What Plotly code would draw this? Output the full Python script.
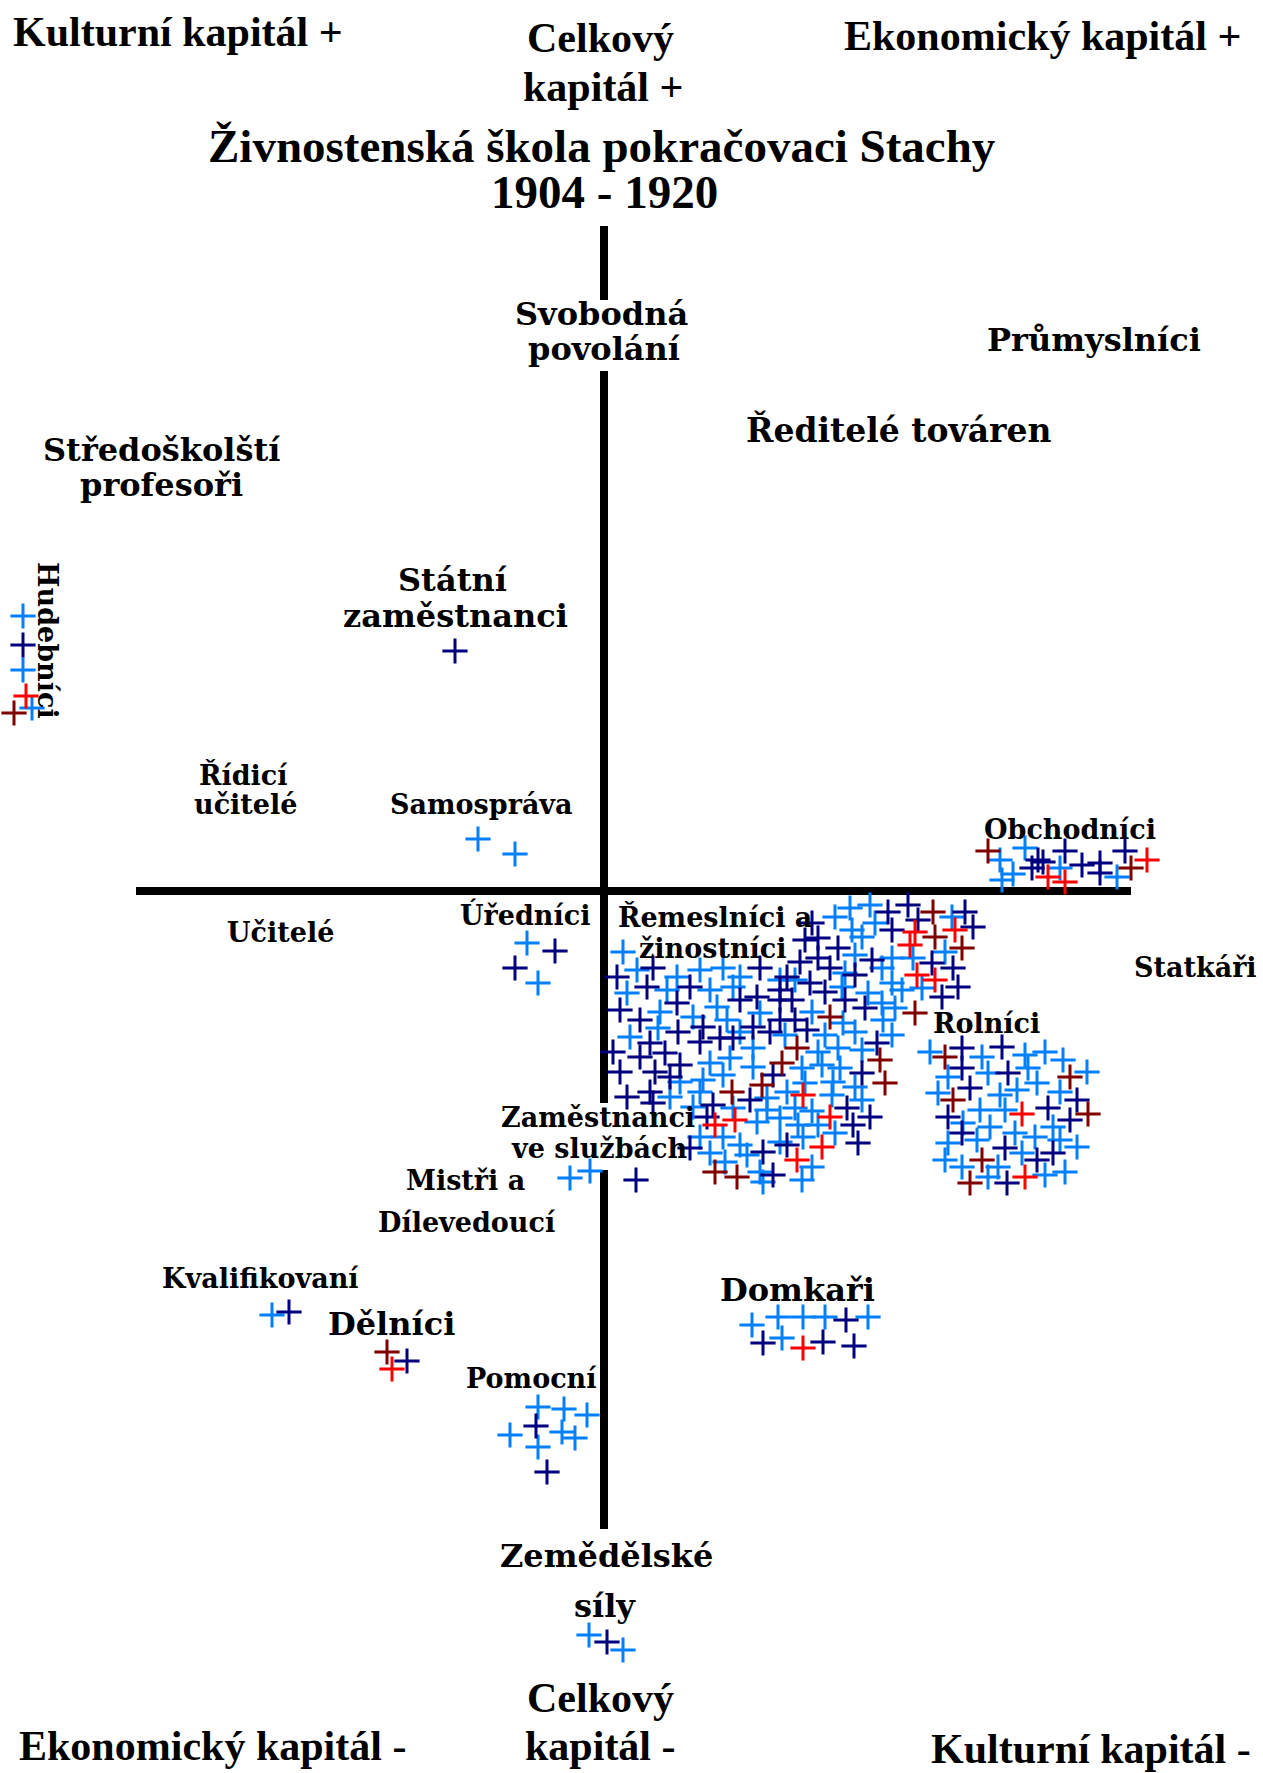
import plotly.graph_objects as go

# ---------------- data (map coordinates, y grows downward) ----------------
light_blue_x = [23, 23, 32, 478, 515, 527, 538, 1025, 1000, 1002, 1013, 1060, 1117, 570, 590, 272,
                538, 564, 587, 510, 562, 575, 538, 752, 778, 803, 825, 868, 782, 589, 623,
                623, 637, 677, 700, 723, 740, 780, 627, 667, 710, 733, 660, 693, 717, 760, 727,
                850, 870, 835, 852, 875, 952, 862, 945, 855, 892, 913, 795, 845, 882, 892, 842,
                868, 902, 922, 812, 882, 895, 843, 883,
                630, 658, 740, 753, 785, 710, 730, 753, 680, 703, 723, 670, 700, 767, 787, 693,
                733, 767, 757, 780, 700, 723, 740, 780, 710, 747, 725, 760, 763,
                825, 855, 892, 818, 838, 862, 802, 822, 840, 805, 833, 855, 832, 862, 795, 812,
                798, 818, 835, 803, 812, 802,
                930, 982, 1025, 1045, 1063, 948, 988, 1028, 1037, 1087, 938, 1000, 1017, 1060,
                980, 1005, 963, 990, 1053, 948, 977, 1015, 1035, 1060, 1077, 945, 1022, 962, 998,
                1065, 988, 1045]
light_blue_y = [616, 670, 708, 839, 854, 943, 983, 848, 860, 880, 874, 868, 877, 1178, 1171, 1315,
                1407, 1409, 1415, 1435, 1432, 1438, 1447, 1325, 1317, 1317, 1317, 1317, 1338, 1635, 1650,
                952, 970, 977, 970, 968, 977, 980, 993, 990, 990, 987, 1012, 1017, 1007, 1013, 1020,
                908, 905, 917, 930, 923, 917, 937, 952, 955, 958, 958, 980, 973, 968, 983, 987,
                993, 990, 988, 1012, 1003, 1008, 1023, 1020,
                1037, 1028, 1032, 1048, 1035, 1063, 1058, 1067, 1082, 1080, 1075, 1097, 1092, 1098, 1092, 1107,
                1108, 1110, 1122, 1118, 1137, 1137, 1145, 1142, 1153, 1155, 1162, 1172, 1182,
                1035, 1032, 1035, 1052, 1048, 1050, 1068, 1065, 1068, 1083, 1082, 1087, 1095, 1100, 1108, 1111,
                1125, 1125, 1133, 1137, 1167, 1180,
                1052, 1057, 1055, 1052, 1060, 1077, 1073, 1068, 1083, 1072, 1093, 1095, 1090, 1092,
                1110, 1110, 1123, 1127, 1127, 1143, 1140, 1133, 1137, 1140, 1147, 1160, 1153, 1167, 1167,
                1172, 1177, 1175]

navy_x = [23, 455, 555, 515, 1038, 1065, 1125, 1032, 1043, 1082, 1100, 1100, 636, 289, 407, 536, 547,
          846, 763, 823, 854, 607,
          617, 653, 690, 760, 787, 647, 757, 780, 620, 677, 740, 780, 640, 703, 780, 753,
          888, 908, 965, 812, 892, 918, 973, 805, 818, 838, 800, 818, 872, 932, 953, 810, 830, 855,
          958, 825, 942, 792, 845, 865, 795,
          650, 678, 700, 720, 733, 770, 613, 640, 665, 680, 620, 655, 670, 773, 627, 650, 750, 653,
          713, 707, 690, 763, 773,
          807, 877, 862, 847, 870, 853, 858, 787,
          962, 1002, 962, 1008, 970, 1077, 1048, 948, 1070, 962, 1005, 1037, 1053, 1007]
navy_y = [645, 651, 951, 968, 860, 851, 851, 868, 862, 865, 863, 873, 1180, 1312, 1361, 1426, 1472,
          1320, 1343, 1342, 1346, 1642,
          977, 968, 987, 968, 977, 987, 997, 990, 1010, 1003, 1000, 1000, 1020, 1027, 1020, 1027,
          912, 905, 912, 923, 930, 920, 927, 940, 938, 948, 962, 958, 960, 963, 968, 983, 968, 975,
          987, 992, 997, 1000, 1000, 1008, 1020,
          1043, 1032, 1042, 1038, 1038, 1032, 1052, 1057, 1053, 1065, 1072, 1072, 1077, 1075, 1097, 1092, 1100, 1103,
          1105, 1117, 1148, 1152, 1175,
          1030, 1043, 1073, 1108, 1117, 1125, 1143, 1145,
          1048, 1047, 1068, 1073, 1088, 1100, 1108, 1117, 1120, 1133, 1148, 1160, 1153, 1183]

red_x = [26, 1048, 1065, 1147, 392, 803, 915, 955, 910, 917, 935, 715, 735, 803, 830, 822, 797, 1022, 1025]
red_y = [696, 877, 882, 860, 1369, 1348, 932, 930, 945, 975, 980, 1125, 1120, 1095, 1117, 1147, 1160, 1114, 1177]

dark_red_x = [14, 988, 1131, 387, 933, 935, 962, 830, 915, 782, 762, 732, 715, 737, 797, 880, 885,
              945, 1070, 953, 1088, 982, 970]
dark_red_y = [713, 851, 868, 1352, 912, 937, 948, 1017, 1013, 1063, 1085, 1092, 1172, 1177, 1048, 1060, 1083,
              1057, 1077, 1100, 1114, 1160, 1183]

# ---------------- frame / styling ----------------
W, H = 1263, 1773
ORIGIN_X, ORIGIN_Y = 604, 891
V_SEGMENTS = [(226, 300), (371, 1103), (1170, 1529)]
H_EXTENT = (136, 1131)

COLORS = {"lb": "#0080ff", "nv": "#000080", "rd": "#ff0000", "dr": "#800000"}

fig = go.Figure()

# axis lines
vx, vy = [], []
for a, b in V_SEGMENTS:
    vx += [ORIGIN_X, ORIGIN_X, None]
    vy += [a, b, None]
fig.add_trace(go.Scatter(x=vx, y=vy, mode="lines", line=dict(color="black", width=8),
                         hoverinfo="skip", showlegend=False))
fig.add_trace(go.Scatter(x=list(H_EXTENT), y=[ORIGIN_Y, ORIGIN_Y], mode="lines",
                         line=dict(color="black", width=8), hoverinfo="skip", showlegend=False))

for xs, ys, key in [(light_blue_x, light_blue_y, "lb"), (navy_x, navy_y, "nv"),
                    (dark_red_x, dark_red_y, "dr"), (red_x, red_y, "rd")]:
    fig.add_trace(go.Scatter(x=xs, y=ys, mode="markers",
                             marker=dict(symbol="cross-thin", size=18,
                                         line=dict(width=3, color=COLORS[key])),
                             hoverinfo="skip", showlegend=False))

SERIF = "Liberation Serif"
LABEL = "DejaVu Serif"

# header / corner texts: (text, x, y, xanchor, size)
headers = [
    ("Kulturní kapitál +", 11, 32, "left", 42),
    ("Celkový", 600, 38, "center", 42),
    ("kapitál +", 603, 87, "center", 42),
    ("Ekonomický kapitál +", 842, 36, "left", 42),
    ("Živnostenská škola pokračovaci Stachy", 602, 146, "center", 47),
    ("1904 - 1920", 604, 192, "center", 47),
    ("Celkový", 600, 1698, "center", 42),
    ("kapitál -", 600, 1746, "center", 42),
    ("Ekonomický kapitál -", 17, 1746, "left", 42),
    ("Kulturní kapitál -", 929, 1749, "left", 42),
]

labels = [
    ("Svobodná", 601, 314, 32), ("povolání", 604, 349, 32),
    ("Průmyslníci", 1094, 340, 32),
    ("Ředitelé továren", 898, 430, 33),
    ("Středoškolští", 161, 450, 32), ("profesoři", 161, 485, 32),
    ("Státní", 452, 580, 32), ("zaměstnanci", 455, 616, 32),
    ("Řídicí", 243, 775, 27), ("učitelé", 245, 804, 27),
    ("Samospráva", 481, 804, 27),
    ("Obchodníci", 1070, 829, 27),
    ("Učitelé", 280, 932, 27),
    ("Úředníci", 525, 914, 27),
    ("Řemeslníci a", 715, 917, 27), ("žinostníci", 713, 948, 27),
    ("Statkáři", 1195, 967, 27),
    ("Rolníci", 986, 1023, 27),
    ("Zaměstnanci", 598, 1117, 27), ("ve službách", 599, 1148, 27),
    ("Mistři a", 465, 1180, 27),
    ("Dílevedoucí", 467, 1222, 27),
    ("Kvalifikovaní", 260, 1278, 27),
    ("Dělníci", 391, 1324, 32),
    ("Domkaři", 797, 1290, 32),
    ("Pomocní", 531, 1378, 27),
    ("Zemědělské", 606, 1556, 32), ("síly", 605, 1606, 32),
]

ann = []
for t, x, y, xa, s in headers:
    ann.append(dict(text="<b>" + t + "</b>", x=x, y=y, xref="x", yref="y", xanchor=xa,
                    yanchor="middle", showarrow=False,
                    font=dict(family=SERIF, size=s, color="black")))
for t, x, y, s in labels:
    ann.append(dict(text="<b>" + t + "</b>", x=x, y=y, xref="x", yref="y", xanchor="center",
                    yanchor="middle", showarrow=False,
                    font=dict(family=LABEL, size=s, color="black")))
ann.append(dict(text="<b>Hudebníci</b>", x=48, y=640, xref="x", yref="y", textangle=90,
                xanchor="center", yanchor="middle", showarrow=False,
                font=dict(family=LABEL, size=27, color="black")))

fig.update_layout(
    width=W, height=H, margin=dict(l=0, r=0, t=0, b=0),
    paper_bgcolor="white", plot_bgcolor="white",
    xaxis=dict(range=[0, W], visible=False, fixedrange=True),
    yaxis=dict(range=[H, 0], visible=False, fixedrange=True),
    annotations=ann,
)

fig.write_html("out.html", config={"displayModeBar": False},
               post_script="document.body.style.margin='0';document.documentElement.style.overflow='hidden';")
